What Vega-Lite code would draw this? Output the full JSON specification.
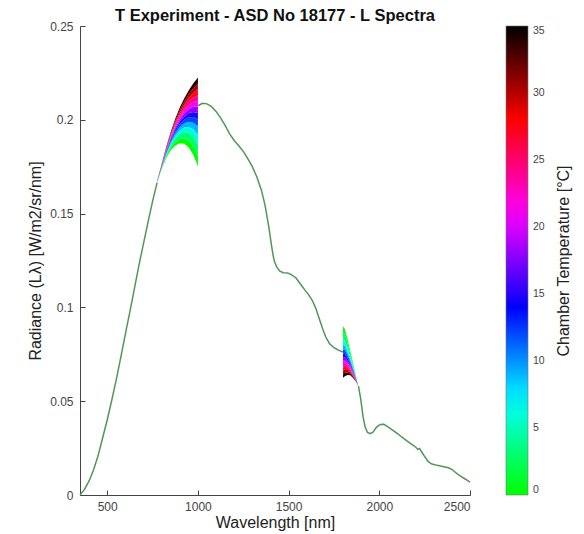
{
"$schema":"https://vega.github.io/schema/vega-lite/v6.json",
"width":390,"height":469,
"autosize":"none",
"padding":{"left":80,"top":26,"right":114,"bottom":39},
"background":"white",
"title":{"text":"T Experiment - ASD No 18177 - L Spectra","fontSize":16.5,"fontWeight":"bold","color":"#111","offset":-4,"anchor":"middle"},
"config":{
 "font":"Liberation Sans",
 "view":{"stroke":null},
 "axis":{"grid":false,"domainColor":"#444","tickColor":"#444","labelColor":"#444","labelFontSize":12,"titleFontSize":16,"titleFontWeight":"normal","titleColor":"#222","tickSize":-5,"domainWidth":1,"tickWidth":1},
 "axisX":{"labelPadding":11,"titlePadding":2},
 "axisY":{"labelPadding":12,"titlePadding":6}
},
"datasets":{
"common":[
{"s":"a","w":350,"L":0},{"s":"a","w":375,"L":0.003},{"s":"a","w":400,"L":0.0075},{"s":"a","w":425,"L":0.0135},{"s":"a","w":450,"L":0.021},{"s":"a","w":475,"L":0.0305},{"s":"a","w":500,"L":0.04},{"s":"a","w":525,"L":0.0505},{"s":"a","w":550,"L":0.0615},{"s":"a","w":575,"L":0.0735},{"s":"a","w":600,"L":0.0858},{"s":"a","w":625,"L":0.0978},{"s":"a","w":650,"L":0.11},{"s":"a","w":675,"L":0.1225},{"s":"a","w":700,"L":0.134},{"s":"a","w":725,"L":0.1455},{"s":"a","w":750,"L":0.1565},{"s":"a","w":775,"L":0.1665},
{"s":"b","w":1001,"L":0.2075},{"s":"b","w":1025,"L":0.2088},{"s":"b","w":1050,"L":0.2085},{"s":"b","w":1075,"L":0.207},{"s":"b","w":1100,"L":0.2045},{"s":"b","w":1125,"L":0.201},{"s":"b","w":1150,"L":0.197},{"s":"b","w":1175,"L":0.1925},{"s":"b","w":1200,"L":0.189},{"s":"b","w":1225,"L":0.1862},{"s":"b","w":1250,"L":0.1832},{"s":"b","w":1275,"L":0.1793},{"s":"b","w":1300,"L":0.175},{"s":"b","w":1325,"L":0.1695},{"s":"b","w":1350,"L":0.1625},{"s":"b","w":1370,"L":0.1545},{"s":"b","w":1390,"L":0.1435},{"s":"b","w":1405,"L":0.1335},{"s":"b","w":1415,"L":0.1275},{"s":"b","w":1422,"L":0.1245},{"s":"b","w":1435,"L":0.1215},{"s":"b","w":1450,"L":0.1195},{"s":"b","w":1470,"L":0.1185},{"s":"b","w":1495,"L":0.1183},{"s":"b","w":1515,"L":0.1175},{"s":"b","w":1540,"L":0.1158},{"s":"b","w":1565,"L":0.1125},{"s":"b","w":1590,"L":0.1092},{"s":"b","w":1610,"L":0.1068},{"s":"b","w":1630,"L":0.1038},{"s":"b","w":1650,"L":0.0995},{"s":"b","w":1670,"L":0.0937},{"s":"b","w":1690,"L":0.088},{"s":"b","w":1705,"L":0.0842},{"s":"b","w":1725,"L":0.0808},{"s":"b","w":1750,"L":0.0785},{"s":"b","w":1775,"L":0.0772},{"s":"b","w":1799,"L":0.0762},
{"s":"c","w":1885,"L":0.058},{"s":"c","w":1897,"L":0.0515},{"s":"c","w":1910,"L":0.042},{"s":"c","w":1922,"L":0.0362},{"s":"c","w":1935,"L":0.0333},{"s":"c","w":1950,"L":0.0327},{"s":"c","w":1965,"L":0.0335},{"s":"c","w":1985,"L":0.0362},{"s":"c","w":2005,"L":0.0376},{"s":"c","w":2025,"L":0.0377},{"s":"c","w":2050,"L":0.0362},{"s":"c","w":2075,"L":0.0345},{"s":"c","w":2100,"L":0.0327},{"s":"c","w":2125,"L":0.0308},{"s":"c","w":2150,"L":0.029},{"s":"c","w":2175,"L":0.0272},{"s":"c","w":2200,"L":0.0256},{"s":"c","w":2212,"L":0.0243},{"s":"c","w":2222,"L":0.0248},{"s":"c","w":2235,"L":0.0228},{"s":"c","w":2250,"L":0.0205},{"s":"c","w":2270,"L":0.0178},{"s":"c","w":2290,"L":0.0165},{"s":"c","w":2320,"L":0.0158},{"s":"c","w":2350,"L":0.0152},{"s":"c","w":2380,"L":0.0145},{"s":"c","w":2400,"L":0.0137},{"s":"c","w":2425,"L":0.0116},{"s":"c","w":2450,"L":0.0099},{"s":"c","w":2475,"L":0.0084},{"s":"c","w":2500,"L":0.0068}
],
"vnir":[
{"T":0,"w":775,"lo":0.1665,"hi":0.1666},{"T":0,"w":800,"lo":0.1735,"hi":0.1739},{"T":0,"w":825,"lo":0.1795,"hi":0.1802},{"T":0,"w":850,"lo":0.1837,"hi":0.1849},{"T":0,"w":875,"lo":0.1863,"hi":0.188},{"T":0,"w":900,"lo":0.1875,"hi":0.1898},{"T":0,"w":925,"lo":0.1872,"hi":0.1901},{"T":0,"w":950,"lo":0.1852,"hi":0.1889},{"T":0,"w":975,"lo":0.1812,"hi":0.1858},{"T":0,"w":1000,"lo":0.1752,"hi":0.1809},
{"T":3,"w":775,"lo":0.1666,"hi":0.1668},{"T":3,"w":800,"lo":0.1739,"hi":0.1743},{"T":3,"w":825,"lo":0.1802,"hi":0.181},{"T":3,"w":850,"lo":0.1849,"hi":0.1862},{"T":3,"w":875,"lo":0.188,"hi":0.1899},{"T":3,"w":900,"lo":0.1898,"hi":0.1923},{"T":3,"w":925,"lo":0.1901,"hi":0.1933},{"T":3,"w":950,"lo":0.1889,"hi":0.1929},{"T":3,"w":975,"lo":0.1858,"hi":0.1908},{"T":3,"w":1000,"lo":0.1809,"hi":0.187},
{"T":6,"w":775,"lo":0.1668,"hi":0.1669},{"T":6,"w":800,"lo":0.1743,"hi":0.1746},{"T":6,"w":825,"lo":0.181,"hi":0.1817},{"T":6,"w":850,"lo":0.1862,"hi":0.1872},{"T":6,"w":875,"lo":0.1899,"hi":0.1914},{"T":6,"w":900,"lo":0.1923,"hi":0.1943},{"T":6,"w":925,"lo":0.1933,"hi":0.196},{"T":6,"w":950,"lo":0.1929,"hi":0.1962},{"T":6,"w":975,"lo":0.1908,"hi":0.195},{"T":6,"w":1000,"lo":0.187,"hi":0.1922},
{"T":9,"w":775,"lo":0.1669,"hi":0.167},{"T":9,"w":800,"lo":0.1746,"hi":0.1749},{"T":9,"w":825,"lo":0.1817,"hi":0.1822},{"T":9,"w":850,"lo":0.1872,"hi":0.1881},{"T":9,"w":875,"lo":0.1914,"hi":0.1927},{"T":9,"w":900,"lo":0.1943,"hi":0.1961},{"T":9,"w":925,"lo":0.196,"hi":0.1981},{"T":9,"w":950,"lo":0.1962,"hi":0.199},{"T":9,"w":975,"lo":0.195,"hi":0.1984},{"T":9,"w":1000,"lo":0.1922,"hi":0.1965},
{"T":12,"w":775,"lo":0.167,"hi":0.167},{"T":12,"w":800,"lo":0.1749,"hi":0.1751},{"T":12,"w":825,"lo":0.1822,"hi":0.1827},{"T":12,"w":850,"lo":0.1881,"hi":0.1889},{"T":12,"w":875,"lo":0.1927,"hi":0.1938},{"T":12,"w":900,"lo":0.1961,"hi":0.1976},{"T":12,"w":925,"lo":0.1981,"hi":0.2001},{"T":12,"w":950,"lo":0.199,"hi":0.2014},{"T":12,"w":975,"lo":0.1984,"hi":0.2015},{"T":12,"w":1000,"lo":0.1965,"hi":0.2003},
{"T":15,"w":775,"lo":0.167,"hi":0.1671},{"T":15,"w":800,"lo":0.1751,"hi":0.1753},{"T":15,"w":825,"lo":0.1827,"hi":0.1831},{"T":15,"w":850,"lo":0.1889,"hi":0.1896},{"T":15,"w":875,"lo":0.1938,"hi":0.1948},{"T":15,"w":900,"lo":0.1976,"hi":0.1989},{"T":15,"w":925,"lo":0.2001,"hi":0.2018},{"T":15,"w":950,"lo":0.2014,"hi":0.2036},{"T":15,"w":975,"lo":0.2015,"hi":0.2042},{"T":15,"w":1000,"lo":0.2003,"hi":0.2036},
{"T":18,"w":775,"lo":0.1671,"hi":0.1672},{"T":18,"w":800,"lo":0.1753,"hi":0.1755},{"T":18,"w":825,"lo":0.1831,"hi":0.1835},{"T":18,"w":850,"lo":0.1896,"hi":0.1903},{"T":18,"w":875,"lo":0.1948,"hi":0.1958},{"T":18,"w":900,"lo":0.1989,"hi":0.2002},{"T":18,"w":925,"lo":0.2018,"hi":0.2035},{"T":18,"w":950,"lo":0.2036,"hi":0.2057},{"T":18,"w":975,"lo":0.2042,"hi":0.2069},{"T":18,"w":1000,"lo":0.2036,"hi":0.2069},
{"T":21,"w":775,"lo":0.1672,"hi":0.1672},{"T":21,"w":800,"lo":0.1755,"hi":0.1757},{"T":21,"w":825,"lo":0.1835,"hi":0.1839},{"T":21,"w":850,"lo":0.1903,"hi":0.191},{"T":21,"w":875,"lo":0.1958,"hi":0.1968},{"T":21,"w":900,"lo":0.2002,"hi":0.2016},{"T":21,"w":925,"lo":0.2035,"hi":0.2052},{"T":21,"w":950,"lo":0.2057,"hi":0.2078},{"T":21,"w":975,"lo":0.2069,"hi":0.2095},{"T":21,"w":1000,"lo":0.2069,"hi":0.2102},
{"T":24,"w":775,"lo":0.1672,"hi":0.1673},{"T":24,"w":800,"lo":0.1757,"hi":0.1759},{"T":24,"w":825,"lo":0.1839,"hi":0.1843},{"T":24,"w":850,"lo":0.191,"hi":0.1915},{"T":24,"w":875,"lo":0.1968,"hi":0.1977},{"T":24,"w":900,"lo":0.2016,"hi":0.2027},{"T":24,"w":925,"lo":0.2052,"hi":0.2066},{"T":24,"w":950,"lo":0.2078,"hi":0.2097},{"T":24,"w":975,"lo":0.2095,"hi":0.2118},{"T":24,"w":1000,"lo":0.2102,"hi":0.213},
{"T":27,"w":775,"lo":0.1673,"hi":0.1674},{"T":27,"w":800,"lo":0.1759,"hi":0.1761},{"T":27,"w":825,"lo":0.1843,"hi":0.1847},{"T":27,"w":850,"lo":0.1915,"hi":0.1922},{"T":27,"w":875,"lo":0.1977,"hi":0.1986},{"T":27,"w":900,"lo":0.2027,"hi":0.2039},{"T":27,"w":925,"lo":0.2066,"hi":0.2082},{"T":27,"w":950,"lo":0.2097,"hi":0.2117},{"T":27,"w":975,"lo":0.2118,"hi":0.2143},{"T":27,"w":1000,"lo":0.213,"hi":0.2161},
{"T":30,"w":775,"lo":0.1674,"hi":0.1674},{"T":30,"w":800,"lo":0.1761,"hi":0.1763},{"T":30,"w":825,"lo":0.1847,"hi":0.1851},{"T":30,"w":850,"lo":0.1922,"hi":0.1928},{"T":30,"w":875,"lo":0.1986,"hi":0.1995},{"T":30,"w":900,"lo":0.2039,"hi":0.2052},{"T":30,"w":925,"lo":0.2082,"hi":0.2098},{"T":30,"w":950,"lo":0.2117,"hi":0.2137},{"T":30,"w":975,"lo":0.2143,"hi":0.2168},{"T":30,"w":1000,"lo":0.2161,"hi":0.2192},
{"T":34,"w":775,"lo":0.1674,"hi":0.1675},{"T":34,"w":800,"lo":0.1763,"hi":0.1765},{"T":34,"w":825,"lo":0.1851,"hi":0.1855},{"T":34,"w":850,"lo":0.1928,"hi":0.1935},{"T":34,"w":875,"lo":0.1995,"hi":0.2005},{"T":34,"w":900,"lo":0.2052,"hi":0.2065},{"T":34,"w":925,"lo":0.2098,"hi":0.2115},{"T":34,"w":950,"lo":0.2137,"hi":0.2158},{"T":34,"w":975,"lo":0.2168,"hi":0.2195},{"T":34,"w":1000,"lo":0.2192,"hi":0.2225}
],
"swir":[
{"T":0,"w":1800,"lo":0.09,"hi":0.0867},{"T":0,"w":1810,"lo":0.0885,"hi":0.0855},{"T":0,"w":1825,"lo":0.083,"hi":0.0807},{"T":0,"w":1840,"lo":0.0768,"hi":0.0752},{"T":0,"w":1855,"lo":0.0705,"hi":0.0695},{"T":0,"w":1870,"lo":0.064,"hi":0.0636},{"T":0,"w":1885,"lo":0.058,"hi":0.058},
{"T":3,"w":1800,"lo":0.0867,"hi":0.0831},{"T":3,"w":1810,"lo":0.0855,"hi":0.0822},{"T":3,"w":1825,"lo":0.0807,"hi":0.0783},{"T":3,"w":1840,"lo":0.0752,"hi":0.0736},{"T":3,"w":1855,"lo":0.0695,"hi":0.0685},{"T":3,"w":1870,"lo":0.0636,"hi":0.0632},{"T":3,"w":1885,"lo":0.058,"hi":0.058},
{"T":6,"w":1800,"lo":0.0831,"hi":0.0801},{"T":6,"w":1810,"lo":0.0822,"hi":0.0794},{"T":6,"w":1825,"lo":0.0783,"hi":0.0762},{"T":6,"w":1840,"lo":0.0736,"hi":0.0721},{"T":6,"w":1855,"lo":0.0685,"hi":0.0676},{"T":6,"w":1870,"lo":0.0632,"hi":0.0628},{"T":6,"w":1885,"lo":0.058,"hi":0.058},
{"T":9,"w":1800,"lo":0.0801,"hi":0.0776},{"T":9,"w":1810,"lo":0.0794,"hi":0.0772},{"T":9,"w":1825,"lo":0.0762,"hi":0.0745},{"T":9,"w":1840,"lo":0.0721,"hi":0.071},{"T":9,"w":1855,"lo":0.0676,"hi":0.0669},{"T":9,"w":1870,"lo":0.0628,"hi":0.0625},{"T":9,"w":1885,"lo":0.058,"hi":0.058},
{"T":12,"w":1800,"lo":0.0776,"hi":0.0754},{"T":12,"w":1810,"lo":0.0772,"hi":0.0751},{"T":12,"w":1825,"lo":0.0745,"hi":0.0729},{"T":12,"w":1840,"lo":0.071,"hi":0.0699},{"T":12,"w":1855,"lo":0.0669,"hi":0.0662},{"T":12,"w":1870,"lo":0.0625,"hi":0.0623},{"T":12,"w":1885,"lo":0.058,"hi":0.058},
{"T":15,"w":1800,"lo":0.0754,"hi":0.0735},{"T":15,"w":1810,"lo":0.0751,"hi":0.0734},{"T":15,"w":1825,"lo":0.0729,"hi":0.0716},{"T":15,"w":1840,"lo":0.0699,"hi":0.069},{"T":15,"w":1855,"lo":0.0662,"hi":0.0656},{"T":15,"w":1870,"lo":0.0623,"hi":0.062},{"T":15,"w":1885,"lo":0.058,"hi":0.058},
{"T":18,"w":1800,"lo":0.0735,"hi":0.0716},{"T":18,"w":1810,"lo":0.0734,"hi":0.0716},{"T":18,"w":1825,"lo":0.0716,"hi":0.0703},{"T":18,"w":1840,"lo":0.069,"hi":0.0681},{"T":18,"w":1855,"lo":0.0656,"hi":0.0651},{"T":18,"w":1870,"lo":0.062,"hi":0.0618},{"T":18,"w":1885,"lo":0.058,"hi":0.058},
{"T":21,"w":1800,"lo":0.0716,"hi":0.0697},{"T":21,"w":1810,"lo":0.0716,"hi":0.0699},{"T":21,"w":1825,"lo":0.0703,"hi":0.0689},{"T":21,"w":1840,"lo":0.0681,"hi":0.0672},{"T":21,"w":1855,"lo":0.0651,"hi":0.0645},{"T":21,"w":1870,"lo":0.0618,"hi":0.0616},{"T":21,"w":1885,"lo":0.058,"hi":0.058},
{"T":24,"w":1800,"lo":0.0697,"hi":0.068},{"T":24,"w":1810,"lo":0.0699,"hi":0.0683},{"T":24,"w":1825,"lo":0.0689,"hi":0.0678},{"T":24,"w":1840,"lo":0.0672,"hi":0.0664},{"T":24,"w":1855,"lo":0.0645,"hi":0.064},{"T":24,"w":1870,"lo":0.0616,"hi":0.0614},{"T":24,"w":1885,"lo":0.058,"hi":0.058},
{"T":27,"w":1800,"lo":0.068,"hi":0.0662},{"T":27,"w":1810,"lo":0.0683,"hi":0.0667},{"T":27,"w":1825,"lo":0.0678,"hi":0.0666},{"T":27,"w":1840,"lo":0.0664,"hi":0.0656},{"T":27,"w":1855,"lo":0.064,"hi":0.0635},{"T":27,"w":1870,"lo":0.0614,"hi":0.0612},{"T":27,"w":1885,"lo":0.058,"hi":0.058},
{"T":30,"w":1800,"lo":0.0662,"hi":0.0644},{"T":30,"w":1810,"lo":0.0667,"hi":0.0651},{"T":30,"w":1825,"lo":0.0666,"hi":0.0653},{"T":30,"w":1840,"lo":0.0656,"hi":0.0647},{"T":30,"w":1855,"lo":0.0635,"hi":0.063},{"T":30,"w":1870,"lo":0.0612,"hi":0.0609},{"T":30,"w":1885,"lo":0.058,"hi":0.058},
{"T":34,"w":1800,"lo":0.0644,"hi":0.0625},{"T":34,"w":1810,"lo":0.0651,"hi":0.0633},{"T":34,"w":1825,"lo":0.0653,"hi":0.064},{"T":34,"w":1840,"lo":0.0647,"hi":0.0638},{"T":34,"w":1855,"lo":0.063,"hi":0.0624},{"T":34,"w":1870,"lo":0.0609,"hi":0.0607},{"T":34,"w":1885,"lo":0.058,"hi":0.058}
]
},
"layer":[
{"data":{"name":"common"},
 "mark":{"type":"line","color":"#529657","strokeWidth":1.5},
 "encoding":{
  "x":{"field":"w","type":"quantitative","title":"Wavelength [nm]","scale":{"domain":[350,2500],"nice":false},"axis":{"values":[500,1000,1500,2000,2500],"format":"d"}},
  "y":{"field":"L","type":"quantitative","title":"Radiance (Lλ) [W/m2/sr/nm]","scale":{"domain":[0,0.25],"nice":false},"axis":{"values":[0,0.05,0.1,0.15,0.2,0.25],"format":"~g"}},
  "detail":{"field":"s","type":"nominal"}
 }},
{"data":{"name":"vnir"},
 "mark":{"type":"area"},
 "encoding":{
  "x":{"field":"w","type":"quantitative","title":"Wavelength [nm]","scale":{"domain":[350,2500],"nice":false}},
  "y":{"field":"lo","type":"quantitative","title":"Radiance (Lλ) [W/m2/sr/nm]","scale":{"domain":[0,0.25],"nice":false}},
  "y2":{"field":"hi"},
  "detail":{"field":"T","type":"nominal"},
  "color":{"field":"T","type":"quantitative","title":"Chamber Temperature [°C]",
   "scale":{"domain":[0,7,14,21,28,35],"range":["#00ff00","#00ffff","#0000ff","#ff00ff","#ff0000","#000000"],"interpolate":"rgb"},
   "legend":{"orient":"right","offset":33,"direction":"vertical","gradientLength":469,"gradientThickness":22,"values":[0,5,10,15,20,25,30,35],"titleOrient":"right","titleAnchor":"middle","titlePadding":11,"titleLimit":400,"titleFontSize":16,"titleFontWeight":"normal","titleColor":"#222","labelFontSize":10.5,"labelColor":"#444","labelOffset":5,"gradientStrokeColor":"#777","gradientStrokeWidth":0.6,
   "encode":{"title":{"update":{"angle":{"value":-90},"baseline":{"value":"top"}}}}}}
 }},
{"data":{"name":"swir"},
 "mark":{"type":"area"},
 "encoding":{
  "x":{"field":"w","type":"quantitative","title":"Wavelength [nm]","scale":{"domain":[350,2500],"nice":false}},
  "y":{"field":"lo","type":"quantitative","title":"Radiance (Lλ) [W/m2/sr/nm]","scale":{"domain":[0,0.25],"nice":false}},
  "y2":{"field":"hi"},
  "detail":{"field":"T","type":"nominal"},
  "color":{"field":"T","type":"quantitative","title":"Chamber Temperature [°C]",
   "scale":{"domain":[0,7,14,21,28,35],"range":["#00ff00","#00ffff","#0000ff","#ff00ff","#ff0000","#000000"],"interpolate":"rgb"}}
 }}
]
}
